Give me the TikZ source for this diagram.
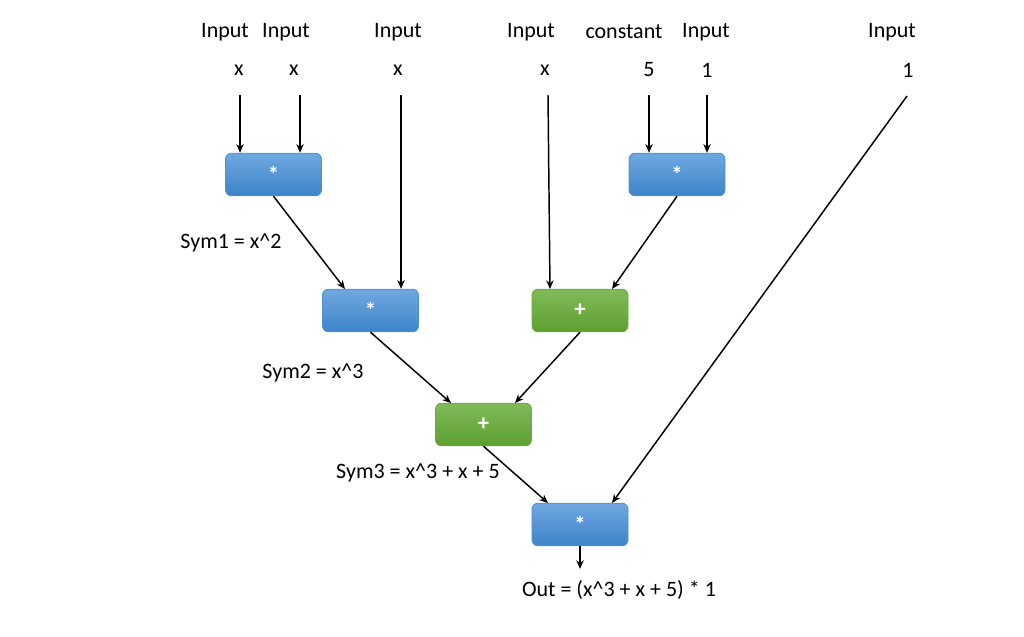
\documentclass[tikz,border=0pt]{standalone}
\usepackage{fontspec}
\setmainfont{Carlito}
\usetikzlibrary{arrows.meta}
\definecolor{blueTop}{HTML}{6FA8E0}
\definecolor{blueBot}{HTML}{3D84C9}
\definecolor{blueEdge}{HTML}{4F8FD0}
\definecolor{greenTop}{HTML}{80BB5A}
\definecolor{greenBot}{HTML}{5E9F30}
\definecolor{greenEdge}{HTML}{6AAA3C}
\newcommand{\opstar}{\raisebox{-2pt}{*}}
\begin{document}
\begin{tikzpicture}[x=0.75pt,y=-0.75pt,
  every node/.style={font=\fontsize{16.5}{19}\selectfont},
  opbox/.style={rounded corners=4.5pt,minimum width=72pt,minimum height=32pt,inner sep=0pt,text=white,font=\fontsize{17}{19}\selectfont\bfseries},
  bluebox/.style={opbox,top color=blueTop,bottom color=blueBot,draw=blueEdge,line width=0.6pt},
  greenbox/.style={opbox,top color=greenTop,bottom color=greenBot,draw=greenEdge,line width=0.6pt},
  lbl/.style={inner sep=0pt,anchor=center},
  conn/.style={-{Stealth[length=6.5pt,width=5.5pt]},line width=1.1pt,black}]
\useasboundingbox (0,0) rectangle (1024,636);
% labels
\node[lbl] (i1) at (225,32) {Input};
\node[lbl] (i2) at (286,32) {Input};
\node[lbl] (i3) at (398,32) {Input};
\node[lbl] (i4) at (531,32) {Input};
\node[lbl] (i5) at (624,32) {constant};
\node[lbl] (i6) at (706,32) {Input};
\node[lbl] (i7) at (892,32) {Input};
\node[lbl] (v1) at (239,70) {x};
\node[lbl] (v2) at (294,70) {x};
\node[lbl] (v3) at (398,70) {x};
\node[lbl] (v4) at (545,70) {x};
\node[lbl] (v5) at (649,70) {5};
\node[lbl] (v6) at (707,70) {1};
\node[lbl] (v7) at (908,70) {1};
% boxes
\node[bluebox] (A) at (273.5,174.5) {\opstar};
\node[bluebox] (B) at (677,174.5) {\opstar};
\node[bluebox] (C) at (370.5,310.5) {\opstar};
\node[greenbox] (D) at (580,310.5) {+};
\node[greenbox] (E) at (483.5,424.5) {+};
\node[bluebox] (F) at (580,524.5) {\opstar};
% text labels
\node[lbl] (s1) at (231,243) {Sym1 = x\textasciicircum 2};
\node[lbl] (s2) at (313,373) {Sym2 = x\textasciicircum 3};
\node[lbl] (s3) at (418,473) {Sym3 = x\textasciicircum 3 + x + 5};
\node[lbl] (out) at (619,590) {Out = (x\textasciicircum 3 + x + 5) * 1};
% free ends
\coordinate (c1) at (240,95);
\coordinate (c2) at (300,95);
\coordinate (c3) at (401,95);
\coordinate (c4) at (548,95);
\coordinate (c5) at (649,95);
\coordinate (c6) at (707,95);
\coordinate (c7) at (907,96);
\coordinate (o) at (580,569);
% connectors
\draw[conn] (c1) -- (c1 |- A.north);
\draw[conn] (c2) -- (c2 |- A.north);
\draw[conn] (c3) -- (c3 |- C.north);
\draw[conn] (c4) -- (550,289);
\draw[conn] (c5) -- (c5 |- B.north);
\draw[conn] (c6) -- (c6 |- B.north);
\draw[conn] (c7) -- (612,503);
\draw[conn] (A.south) -- (345,289);
\draw[conn] (B.south) -- (612,289);
\draw[conn] (C.south) -- (451,403);
\draw[conn] (D.south) -- (515,403);
\draw[conn] (E.south) -- (548,503);
\draw[conn] (F.south) -- (o);
\end{tikzpicture}
\end{document}
